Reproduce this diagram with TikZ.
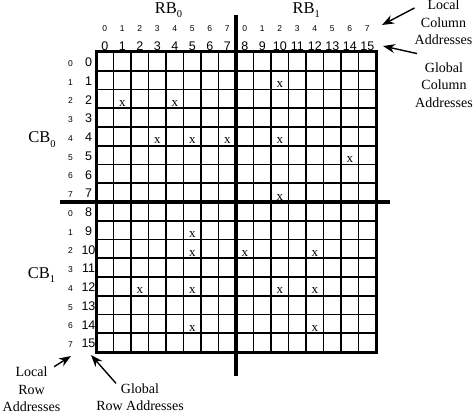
\documentclass[tikz,border=0pt]{standalone}
\usepackage{fontspec}
\setmainfont{Liberation Serif}
\newfontfamily\addrfont{Liberation Sans}
\usepackage{tikz}
\usetikzlibrary{positioning, arrows.meta}

\newcommand{\blocklbl}[2]{#1\raisebox{-4.5pt}{\fontsize{10.5}{10.5}\selectfont #2}}

\begin{document}
\begin{tikzpicture}[x=1pt,y=-1pt,
  gridline/.style={line width=1.9pt},
  frameline/.style={line width=3pt},
  splitline/.style={line width=3.8pt},
  globnum/.style={font=\addrfont\fontsize{12.5}{12.5}\selectfont, inner sep=0pt},
  locnum/.style={font=\addrfont\fontsize{8.5}{8.5}\selectfont, inner sep=0pt},
  bitx/.style={font=\fontsize{13}{13}\selectfont, inner sep=0pt, anchor=base},
  blocklabel/.style={font=\fontsize{16.5}{16.5}\selectfont, inner sep=0pt, anchor=base},
  addrlabel/.style={font=\fontsize{14}{17.5}\selectfont, align=center, inner sep=0pt},
  addrarrow/.style={line width=1.4pt, -{Stealth[length=12pt,width=9pt]}}]
\useasboundingbox (0,0) rectangle (474,414);

% cell grid, 16 x 16
\foreach \c in {1,...,15}
  \draw[gridline] ({96+17.5*\c},52) -- ({96+17.5*\c},352);
\foreach \r in {1,...,15}
  \draw[gridline] (96,{52+18.75*\r}) -- (376,{52+18.75*\r});
\draw[frameline] (96,52) rectangle (376,352);
% block boundaries
\draw[splitline] (236,15) -- (236,376);
\draw[splitline] (60,202) -- (390,202);

% column and row addresses
\foreach \c [evaluate=\c as \l using {int(mod(\c,8))}] in {0,...,15} {
  \node[globnum] (gc\c) at ({104.75+17.5*\c},45.8) {\c};
  \node[locnum] (lc\c) at ({104.75+17.5*\c},28.3) {\l};
}
\foreach \r [evaluate=\r as \l using {int(mod(\r,8))}] in {0,...,15} {
  \node[globnum] (gr\r) at (88.5,{62.4+18.75*\r}) {\r};
  \node[locnum] (lr\r) at (70.5,{63.4+18.75*\r}) {\l};
}

% failing cells
\foreach \c/\r [count=\i] in {10/1, 1/2, 4/2, 3/4, 5/4, 7/4, 10/4, 14/5, 10/7,
    5/9, 5/10, 8/10, 12/10, 2/12, 5/12, 10/12, 12/12, 5/14, 12/14}
  \node[bitx] (x\i) at ({104.75+17.5*\c},{52+18.75*(\r+1)-1.8}) {x};

% block names
\node[blocklabel] (rb0) at (168.5,13.3) {\blocklbl{RB}{0}};
\node[blocklabel] (rb1) at (306.3,13.3) {\blocklbl{RB}{1}};
\node[blocklabel] (cb0) at (42,143) {\blocklbl{CB}{0}};
\node[blocklabel] (cb1) at (41.5,278) {\blocklbl{CB}{1}};

% notes
\node[addrlabel] (lcol) at (443.5,22.7) {Local\\Column\\Addresses};
\node[addrlabel] (gcol) at (444,85.2) {Global\\Column\\Addresses};
\node[addrlabel] (lrow) at (31.5,389.3) {Local\\Row\\Addresses};
\node[addrlabel] (grow) at (140,397.2) {Global\\Row Addresses};
\coordinate (lcol tip) at (382,25);
\coordinate (gcol tip) at (383,46);
\coordinate (lrow tip) at (71,356);
\coordinate (grow tip) at (91,355);
\draw[addrarrow] (lcol.153) -- (lcol tip);
\draw[addrarrow] ([shift={(2,-9)}]gcol.north west) -- (gcol tip);
\draw[addrarrow] (lrow.45) -- (lrow tip);
\draw[addrarrow] (grow.150) -- (grow tip);
\end{tikzpicture}
\end{document}
